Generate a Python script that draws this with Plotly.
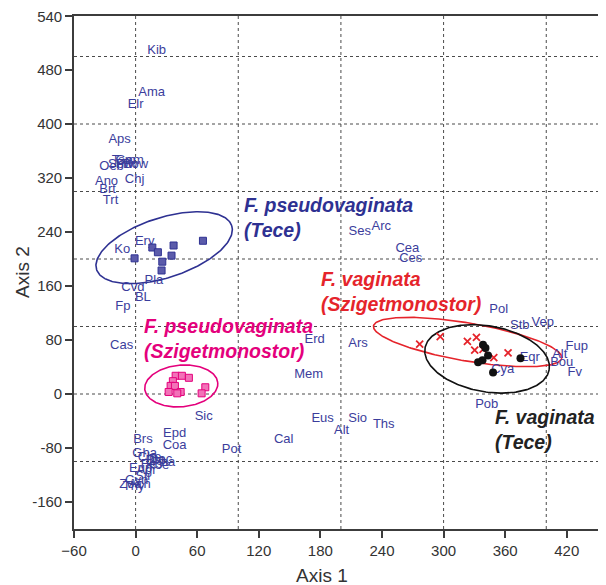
import numpy as np
import plotly.graph_objects as go

# ---------------- data ----------------
# species labels (text positions in ordination space)
label_names = ["Kib", "Ama", "Elr", "Aps",
               "Oeb", "Tsm", "Gam", "Ptw", "Bow", "Sbw",
               "Ano", "Brt", "Trt", "Chj",
               "Ko", "Ery", "Pla", "Cvd", "BL", "Fp", "Cas", "Sic",
               "Ses", "Arc", "Cea", "Ces", "Erd", "Ars", "Mem",
               "Pol", "Stb", "Vep", "Fup", "Alt", "Bou", "Fv", "Eqr", "Cya", "Pob",
               "Eus", "Sio", "Alt", "Ths", "Cal", "Pot", "Epd", "Coa", "Brs",
               "Gha", "Che", "Bro", "Dac", "Fes", "Koe", "Pha", "Eup", "Agr",
               "Sti", "Cyn", "Zoa", "Ach", "Thy"]
label_x = [20.5, 15.6, 0.0, -15.6,
           -23.4, -11.7, -5.8, -8.8, 0.0, -14.6,
           -28.3, -27.3, -24.4, -1.0,
           -13.0, 8.8, 17.8, -2.6, 7.1, -12.4, -13.6, 66.3,
           218.3, 239.4, 264.7, 268.0, 174.4, 216.6, 168.6,
           353.7, 374.2, 396.6, 429.7, 413.2, 415.1, 427.8, 384.0, 357.6, 342.0,
           182.2, 216.3, 200.7, 241.7, 144.2, 93.5, 38.0, 38.0, 7.1,
           8.8, 13.6, 19.5, 24.4, 15.6, 21.4, 27.3, 4.9, 10.7,
           6.8, 1.0, -4.9, 3.9, -1.9]
label_y = [508, 447, 428, 377,
           336, 345, 346, 339, 340, 339,
           315, 303, 287, 318,
           214, 226, 168, 157, 143, 129, 71, -33,
           241, 248, 215, 201, 80, 75, 28,
           125, 101, 105, 70, 58, 46, 31, 53, 36, -16,
           -37, -37, -55, -45, -68, -82, -59, -77, -68,
           -89, -95, -99, -98, -105, -107, -102, -110, -114,
           -123, -129, -135, -135, -138]

# F. pseudovaginata (Tece) - blue squares
fpt_x = [-1.0, 16.3, 21.7, 26.0, 25.3, 37.0, 35.0, 65.6]
fpt_y = [201, 217, 210, 196, 183, 220, 205, 227]

# F. pseudovaginata (Szigetmonostor) - pink squares
fps_x = [39.0, 45.1, 51.9, 36.3, 34.1, 38.3, 43.9, 40.6, 32.2, 67.9, 64.3]
fps_y = [27, 27, 24, 19, 12, 12, 3, 1, 3, 10, 1]

# F. vaginata (Szigetmonostor) - red crosses
fvs_x = [276.7, 296.7, 323.2, 332.0, 330.3, 338.4, 348.9, 362.8]
fvs_y = [74, 85, 78, 84, 65, 66, 54, 61]

# F. vaginata (Tece) - black dots
fvt_x = [338.4, 340.8, 343.3, 337.9, 333.6, 374.9, 348.2]
fvt_y = [73, 68, 57, 50, 47, 53, 32]

# group ellipses: centre x, centre y, semi-axis a, semi-axis b (x units), angle (deg)
ell_blue = [27.8, 216.8, 69.2, 29.2, 18]
ell_pink = [44.5, 11.9, 35.7, 20.3, 5]
ell_red = [323.4, 77.0, 93.0, 18.5, -9.7]
ell_black = [342.4, 52.0, 61.4, 32.1, -10]

# axis ticks
x_ticks = [-60, 0, 60, 120, 180, 240, 300, 360, 420]
y_tickvals = [559.5, 480, 400, 320, 240, 160, 80, 0, -80, -160]
y_ticktext = ["540", "480", "400", "320", "240", "160", "80", "0", "-80", "-160"]
grid_x = [0, 100, 200, 300, 400]
grid_y = [-100, 0, 100, 200, 300, 400, 500]

X_RANGE = [-60, 458.2]
Y_RANGE = [-200, 560]

# ---------------- layout helpers ----------------
OFF = 8                      # page body margin of the browser
W, H = 606 - OFF, 585 - OFF  # figure size
ML, MR, MT, MB = 74 - OFF, 0, 16 - OFF, 56
PW, PH = W - ML - MR, H - MT - MB
px_x = PW / (X_RANGE[1] - X_RANGE[0])
px_y = PH / (Y_RANGE[1] - Y_RANGE[0])
k = px_y / px_x


def ellipse(p):
    cx, cy, a, b, ang = p
    t = np.linspace(0, 2 * np.pi, 240)
    th = np.deg2rad(ang)
    u, v = a * np.cos(t), b * np.sin(t)
    dx = u * np.cos(th) - v * np.sin(th)
    dy = u * np.sin(th) + v * np.cos(th)
    return cx + dx, cy + dy / k


NAVY = "#2E3192"
PINK = "#E4007C"
RED = "#E5242B"
LABEL = "#3B3D9C"
FONT = "Arial, Liberation Sans, sans-serif"

fig = go.Figure()

for p, col in [(ell_blue, NAVY), (ell_pink, PINK), (ell_red, RED), (ell_black, "#111111")]:
    ex, ey = ellipse(p)
    fig.add_trace(go.Scatter(x=ex, y=ey, mode="lines",
                             line=dict(color=col, width=1.6), hoverinfo="skip"))

fig.add_trace(go.Scatter(x=label_x, y=label_y, mode="text", text=label_names,
                         textposition="middle center",
                         textfont=dict(family=FONT, size=13, color=LABEL)))

fig.add_trace(go.Scatter(x=fpt_x, y=fpt_y, mode="markers",
                         marker=dict(symbol="square", size=7, color="#5B5BAA",
                                     line=dict(color=NAVY, width=1))))
fig.add_trace(go.Scatter(x=fps_x, y=fps_y, mode="markers",
                         marker=dict(symbol="square", size=7, color="#F272B8",
                                     line=dict(color=PINK, width=1))))
fig.add_trace(go.Scatter(x=fvs_x, y=fvs_y, mode="markers",
                         marker=dict(symbol="x-thin", size=7,
                                     line=dict(color=RED, width=1.8))))
fig.add_trace(go.Scatter(x=fvt_x, y=fvt_y, mode="markers",
                         marker=dict(symbol="circle", size=8, color="#111111")))

shapes = []
for gx in grid_x:
    shapes.append(dict(type="line", xref="x", yref="paper", x0=gx, x1=gx, y0=0, y1=1,
                       line=dict(color="#4a4a4a", width=1, dash="3px,3px"), layer="below"))
for gy in grid_y:
    shapes.append(dict(type="line", xref="paper", yref="y", x0=0, x1=1, y0=gy, y1=gy,
                       line=dict(color="#4a4a4a", width=1, dash="3px,3px"), layer="below"))

ann_font = dict(family=FONT, size=19.5)
annotations = [
    dict(x=103.3, y=261, xref="x", yref="y", xanchor="left", yanchor="middle",
         text="<b><i>F. pseudovaginata<br>(Tece)</i></b>", showarrow=False, align="left",
         font=dict(**ann_font, color=NAVY)),
    dict(x=178.3, y=152, xref="x", yref="y", xanchor="left", yanchor="middle",
         text="<b><i>F. vaginata<br>(Szigetmonostor)</i></b>", showarrow=False, align="left",
         font=dict(**ann_font, color=RED)),
    dict(x=5.8, y=82, xref="x", yref="y", xanchor="left", yanchor="middle",
         text="<b><i>F. pseudovaginata<br>(Szigetmonostor)</i></b>", showarrow=False, align="left",
         font=dict(**ann_font, color=PINK)),
    dict(x=348, y=-53, xref="x", yref="y", xanchor="left", yanchor="middle",
         text="<b><i>F. vaginata<br>(Tece)</i></b>", showarrow=False, align="left",
         font=dict(**ann_font, color="#222222")),
    dict(x=(322 - 74) / PW, y=0, xref="paper", yref="paper",
         yshift=-46, xanchor="center", yanchor="middle", text="Axis 1", showarrow=False,
         font=dict(family=FONT, size=19, color="#333333")),
    dict(x=0, y=(529 - 272) / PH, xref="paper", yref="paper",
         xshift=-52, xanchor="center", yanchor="middle", text="Axis 2", textangle=-90,
         showarrow=False, font=dict(family=FONT, size=19, color="#333333")),
]

fig.update_layout(
    width=W, height=H,
    margin=dict(l=ML, r=MR, t=MT, b=MB, pad=0),
    paper_bgcolor="white", plot_bgcolor="white",
    showlegend=False, hovermode=False,
    shapes=shapes, annotations=annotations,
    font=dict(family=FONT, color="#333333"),
    xaxis=dict(range=X_RANGE, tickmode="array", tickvals=x_ticks,
               showgrid=False, zeroline=False, showline=True, linecolor="#3c3c3c",
               linewidth=1.6, mirror=True, ticks="outside", ticklen=7, tickwidth=1.5,
               tickcolor="#3c3c3c", ticklabeloverflow="allow",
               tickfont=dict(family=FONT, size=15, color="#333333")),
    yaxis=dict(range=Y_RANGE, tickmode="array", tickvals=y_tickvals, ticktext=y_ticktext,
               showgrid=False, zeroline=False, showline=True, linecolor="#3c3c3c",
               linewidth=1.6, ticks="outside", ticklen=7, tickwidth=1.5,
               tickcolor="#3c3c3c", ticklabeloverflow="allow",
               tickfont=dict(family=FONT, size=15, color="#333333")),
)

fig.write_html("out.html")
